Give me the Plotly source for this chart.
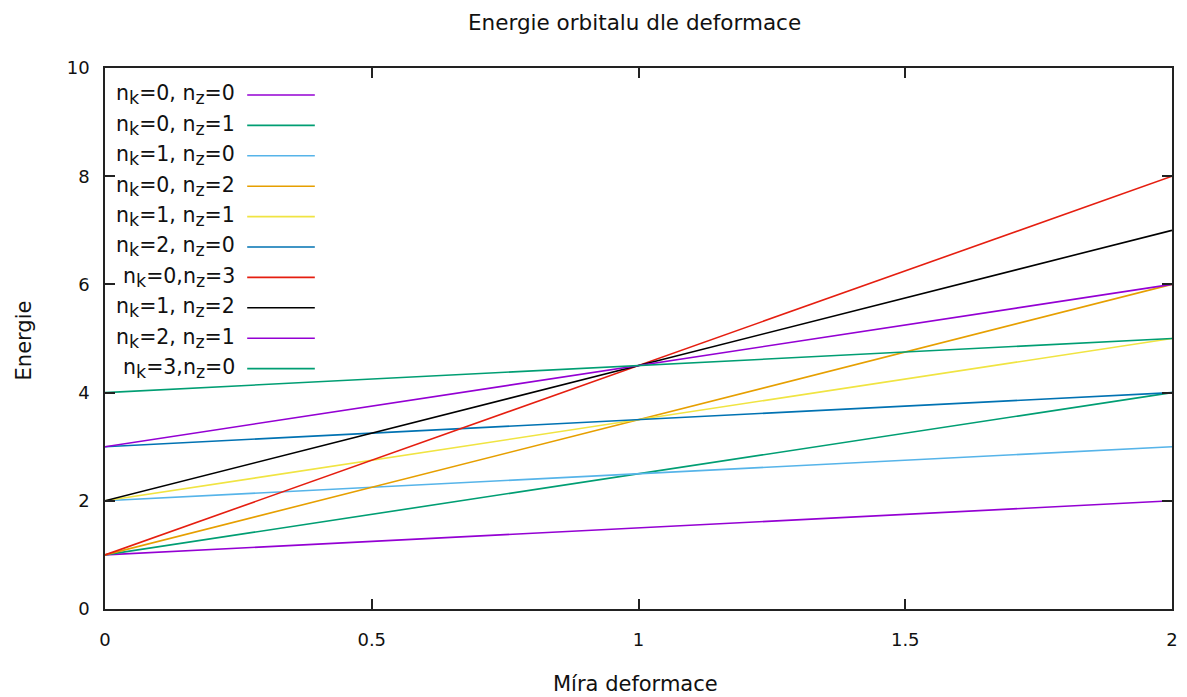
import plotly.graph_objects as go

x_vals = [0, 1, 2]
nk_vals = [0, 0, 1, 0, 1, 2, 0, 1, 2, 3]
nz_vals = [0, 1, 0, 2, 1, 0, 3, 2, 1, 0]
label_seps = [", ", ", ", ", ", ", ", ", ", ", ", ",", ", ", ", ", ","]
series = [
    [1, 1.5, 2],
    [1, 2.5, 4],
    [2, 2.5, 3],
    [1, 3.5, 6],
    [2, 3.5, 5],
    [3, 3.5, 4],
    [1, 4.5, 8],
    [2, 4.5, 7],
    [3, 4.5, 6],
    [4, 4.5, 5],
]
colors = ["#9400d3", "#009e73", "#56b4e9", "#e69f00", "#f0e442",
          "#0072b2", "#e51e10", "#000000", "#9400d3", "#009e73"]

font_family = "DejaVu Sans"
W, H = 1187, 697
L, R, T, B = 105, 9, 68, 88
pw, ph = W - L - R, H - T - B
LEG = 20.5
SUB = 17.5


def px_x(xp):
    return (xp - L) / pw


def px_y(yp):
    return 1 - (yp - T) / ph


def sub(s):
    return "<sub><span style='font-size:%.1fpx'>%s</span></sub>" % (SUB, s)


labels = ["n%s=%d%sn%s=%d" % (sub("k"), k, sep, sub("z"), z)
          for k, z, sep in zip(nk_vals, nz_vals, label_seps)]
names = ["nk=%d, nz=%d" % (k, z) for k, z in zip(nk_vals, nz_vals)]

fig = go.Figure()
for nm, ys, c in zip(names, series, colors):
    fig.add_trace(go.Scatter(x=x_vals, y=ys, mode="lines", name=nm,
                             line=dict(color=c, width=1.6), showlegend=False))

annotations = []
shapes = []
row0 = 95
step = 30.4
for i, (lab, c) in enumerate(zip(labels, colors)):
    yf = px_y(row0 + i * step)
    annotations.append(dict(text=lab, x=px_x(238), y=yf, xref="paper", yref="paper",
                            xanchor="right", yanchor="middle", showarrow=False,
                            font=dict(family=font_family, size=LEG, color="#111111")))
    shapes.append(dict(type="line", xref="paper", yref="paper",
                       x0=px_x(248), x1=px_x(316), y0=yf, y1=yf,
                       line=dict(color=c, width=1.6)))

annotations.append(dict(text="Energie orbitalu dle deformace", x=px_x(637), y=px_y(22),
                        xref="paper", yref="paper", xanchor="center", yanchor="middle",
                        showarrow=False, font=dict(family=font_family, size=21.5, color="#111")))
annotations.append(dict(text="Míra deformace", x=px_x(638), y=px_y(684),
                        xref="paper", yref="paper", xanchor="center", yanchor="middle",
                        showarrow=False, font=dict(family=font_family, size=21, color="#111")))
annotations.append(dict(text="Energie", x=px_x(24), y=px_y(340), xref="paper", yref="paper",
                        xanchor="center", yanchor="middle", textangle=-90,
                        showarrow=False, font=dict(family=font_family, size=21, color="#111")))

axis_common = dict(showgrid=False, zeroline=False, showline=True, linecolor="#222",
                   linewidth=1.5, mirror="ticks", ticks="inside", ticklen=10,
                   tickcolor="#222", tickwidth=1.5,
                   tickfont=dict(family=font_family, size=18, color="#111"))

fig.update_layout(
    width=W, height=H,
    margin=dict(l=L, r=R, t=T, b=B),
    paper_bgcolor="white", plot_bgcolor="white",
    xaxis=dict(range=[0, 2], tickvals=[0, 0.5, 1, 1.5, 2], ticktext=["0", "0.5", "1", "1.5", "2"],
               ticklabelstandoff=14, **axis_common),
    yaxis=dict(range=[0, 10], tickvals=[0, 2, 4, 6, 8, 10], ticklabelstandoff=10, **axis_common),
    annotations=annotations, shapes=shapes,
)
fig.write_html("out.html", config={"displayModeBar": False},
               post_script="document.body.style.margin='0';document.body.style.overflow='hidden';")
